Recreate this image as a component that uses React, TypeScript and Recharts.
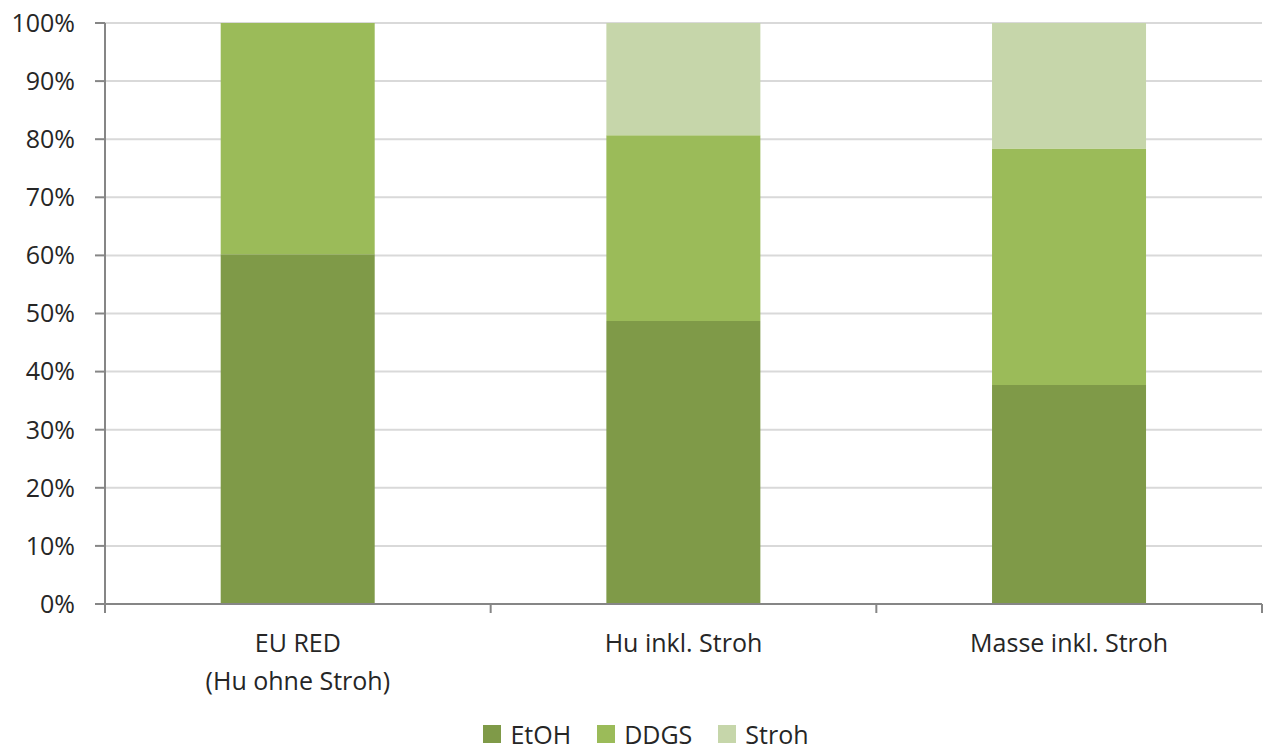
import { BarChart, Bar, XAxis, YAxis, CartesianGrid, Legend } from 'recharts';

const categories = ['EU RED\n(Hu ohne Stroh)', 'Hu inkl. Stroh', 'Masse inkl. Stroh'];
const seriesNames = ['EtOH', 'DDGS', 'Stroh'];
const etohShare = [60.2, 48.7, 37.7];
const ddgsShare = [39.8, 32.0, 40.7];
const strohShare = [0, 19.3, 21.6];
const yTicks = [0, 10, 20, 30, 40, 50, 60, 70, 80, 90, 100];

const data = categories.map((name, i) => ({
  name,
  EtOH: etohShare[i],
  DDGS: ddgsShare[i],
  Stroh: strohShare[i],
}));

const FONT = '"Open Sans", sans-serif';
const TEXT = '#262626';
const AXIS = '#868686';

// category label plus Excel-style tick marks at the band edges
function CategoryTick({ x, y, payload, index, visibleTicksCount }: any) {
  const lines = String(payload.value).split('\n');
  const half = payload.offset || 193;
  return (
    <g>
      <line x1={x - half} x2={x - half} y1={y} y2={y + 9} stroke={AXIS} strokeWidth={2} />
      {index === visibleTicksCount - 1 && (
        <line x1={x + half} x2={x + half} y1={y} y2={y + 9} stroke={AXIS} strokeWidth={2} />
      )}
      <text x={x} y={y} textAnchor="middle" fontFamily={FONT} fontSize={25} fill={TEXT}>
        {lines.map((line, i) => (
          <tspan key={i} x={x} dy={i === 0 ? 48 : 38}>
            {line}
          </tspan>
        ))}
      </text>
    </g>
  );
}

function LegendContent({ payload }: any) {
  const items = [...(payload || [])].sort(
    (a: any, b: any) => seriesNames.indexOf(a.value) - seriesNames.indexOf(b.value)
  );
  return (
    <div
      style={{
        display: 'flex',
        justifyContent: 'center',
        alignItems: 'center',
        height: 24,
        paddingTop: 7,
        marginLeft: 30,
        fontFamily: FONT,
        fontSize: 25,
        lineHeight: '24px',
        color: TEXT,
      }}
    >
      {items.map((p: any, i: number) => (
        <div key={p.value} style={{ display: 'flex', alignItems: 'center', marginLeft: i === 0 ? 0 : 26 }}>
          <span style={{ width: 18, height: 18, background: p.color, display: 'inline-block', marginRight: 9 }} />
          <span>{p.value}</span>
        </div>
      ))}
    </div>
  );
}

export default function App() {
  return (
    <div style={{ position: 'absolute', left: 0, top: 0, background: '#fff' }}>
      <BarChart
        width={1266}
        height={751}
        data={data}
        margin={{ top: 23, right: 4, left: 0, bottom: 0 }}
        barCategoryGap="30%"
      >
        <CartesianGrid horizontal vertical={false} stroke="#D9D9D9" strokeWidth={2} />
        <XAxis
          dataKey="name"
          stroke={AXIS}
          strokeWidth={2}
          tickLine={false}
          tickSize={0}
          tickMargin={0}
          height={111}
          interval={0}
          tick={<CategoryTick />}
        />
        <YAxis
          width={105}
          domain={[0, 100]}
          ticks={yTicks}
          tickFormatter={(v) => `${v}%`}
          stroke={AXIS}
          strokeWidth={2}
          tickSize={10}
          tickMargin={20}
          tick={{ fill: TEXT, fontSize: 25, fontFamily: FONT }}
        />
        <Legend verticalAlign="bottom" height={36} content={<LegendContent />} />
        <Bar dataKey="EtOH" stackId="a" fill="#7F9A48" isAnimationActive={false} />
        <Bar dataKey="DDGS" stackId="a" fill="#9BBB59" isAnimationActive={false} />
        <Bar dataKey="Stroh" stackId="a" fill="#C6D6AA" isAnimationActive={false} />
      </BarChart>
    </div>
  );
}
